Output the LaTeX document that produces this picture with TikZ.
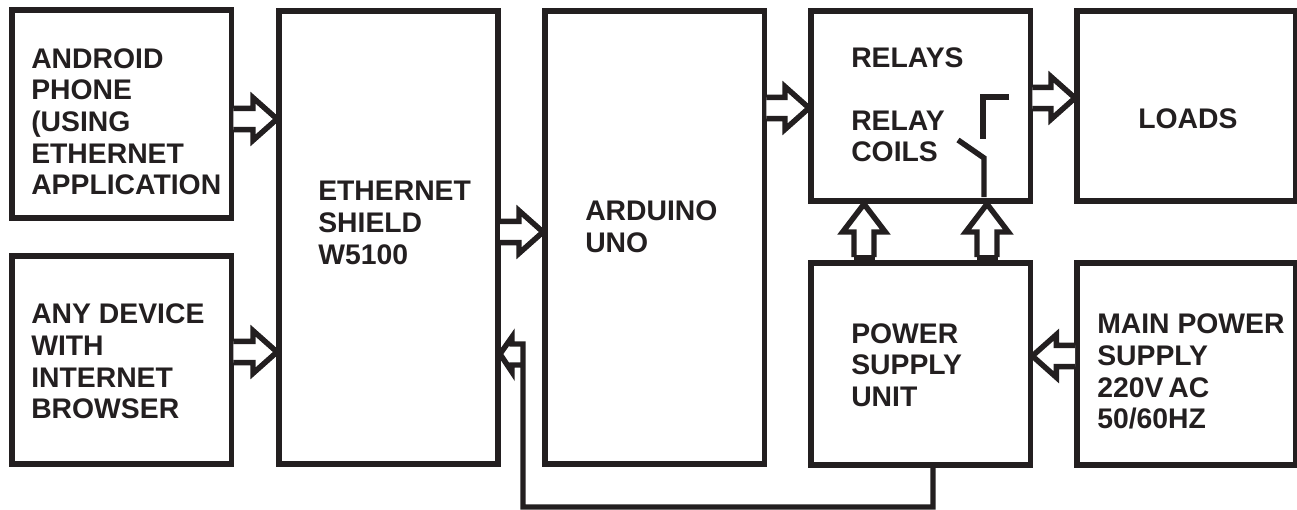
\documentclass[tikz,border=0pt]{standalone}
\usepackage{fontspec}
\setmainfont{Liberation Sans}
\usetikzlibrary{calc}
\definecolor{ink}{HTML}{231F20}
\tikzset{
  x=0.75pt,y=-0.75pt,
  box/.style={draw=ink,line width=4.1pt,fill=white,minimum width=164.5pt,inner sep=0pt,outer sep=0pt,anchor=north west},
  label/.style={font=\fontsize{21.25}{23.8}\selectfont\bfseries,text=ink,align=left,anchor=north west,inner sep=0pt},
  blockarrow/.style={draw=ink,line width=4.1pt,fill=white,miter limit=10,line join=miter},
  wire/.style={draw=ink,line width=4.1pt,line join=miter}
}
% start, end, head length, half shaft, half head
\newcommand\blockarrow[5]{%
  \draw[blockarrow] let \p1=(#1), \p2=(#2) in
   ($(#1)!#4!90:(#2)$) -- ($($(#2)!#3!(#1)$)!#4!-90:(#1)$) -- ($($(#2)!#3!(#1)$)!#5!-90:(#1)$) -- (#2)
   -- ($($(#2)!#3!(#1)$)!#5!90:(#1)$) -- ($($(#2)!#3!(#1)$)!#4!90:(#1)$) -- ($(#1)!#4!-90:(#2)$);
}
\begin{document}
\begin{tikzpicture}
\useasboundingbox (0,0) rectangle (1297,510);
\fill[white] (0,0) rectangle (1297,510);
% boxes
\node[box,minimum height=156pt] (android) at (12,10) {};
\node[box,minimum height=156pt] (browser) at (12,256) {};
\node[box,minimum height=339.75pt,minimum width=164.25pt] (shield) at (279,11) {};
\node[box,minimum height=339.75pt] (uno) at (545,11) {};
\node[box,minimum height=142.5pt] (relays) at (811,11) {};
\node[box,minimum height=142.5pt,minimum width=164.25pt] (loads) at (1077,11) {};
\node[box,minimum height=151.5pt] (psu) at (811,263) {};
\node[box,minimum height=151.5pt,minimum width=164.25pt] (mains) at (1077,263) {};
% labels
\node[label] (t1) at (31,48) {ANDROID\\PHONE\\(USING\\ETHERNET\\APPLICATION};
\node[label] (t2) at (31,303.5) {ANY DEVICE\\WITH\\INTERNET\\BROWSER};
\node[label] (t3) at (318,181) {ETHERNET\\SHIELD\\W5100};
\node[label] (t4) at (585,200.5) {ARDUINO\\UNO};
\node[label] (t5) at (851,47) {RELAYS};
\node[label] (t6) at (851,110.5) {RELAY\\COILS};
\node[label] (t7) at (1138,108.5) {LOADS};
\node[label] (t8) at (851,323) {POWER\\SUPPLY\\UNIT};
\node[label] (t9) at (1097,313.5) {MAIN POWER\\SUPPLY\\220V\hspace{-0.1em} AC\\50/60HZ};
% connector end points
\coordinate (a1) at ($(android.east |- 0,119)+(2,0)$); \coordinate (b1) at ($(shield.west |- 0,119)+(-2,0)$);
\coordinate (a2) at ($(browser.east |- 0,352)+(2,0)$); \coordinate (b2) at ($(shield.west |- 0,352)+(-2,0)$);
\coordinate (a3) at ($(shield.east |- 0,232)+(2,0)$); \coordinate (b3) at ($(uno.west |- 0,232)+(-2,0)$);
\coordinate (a4) at ($(uno.east |- 0,108)+(2,0)$);   \coordinate (b4) at ($(relays.west |- 0,108)+(-2,0)$);
\coordinate (a5) at ($(relays.east |- 0,98)+(2,0)$); \coordinate (b5) at ($(loads.west |- 0,98)+(-2,0)$);
\coordinate (a6) at ($(mains.west |- 0,356)+(-2,0)$); \coordinate (b6) at ($(psu.east |- 0,356)+(2,0)$);
\coordinate (a7) at (864,257); \coordinate (b7) at ($(relays.south -| 864,0)+(0,3)$);
\coordinate (a8) at (987,257); \coordinate (b8) at ($(relays.south -| 987,0)+(0,3)$);
% block arrows
\blockarrow{a1}{b1}{18pt}{8pt}{16pt}
\blockarrow{a2}{b2}{18pt}{8pt}{16pt}
\blockarrow{a3}{b3}{18pt}{8pt}{16pt}
\blockarrow{a4}{b4}{18pt}{8pt}{16pt}
\blockarrow{a5}{b5}{18pt}{8pt}{16pt}
\blockarrow{a6}{b6}{18pt}{8pt}{16pt}
\blockarrow{a7}{b7}{21pt}{7.5pt}{16pt}
\blockarrow{a8}{b8}{21pt}{7.5pt}{16pt}
\fill[ink] (854,255) rectangle (875,263);
\fill[ink] (977,255) rectangle (998,263);
% return line to the shield
\draw[blockarrow,fill=none] (psu.south -| 933,0) -- (933,507) -- (523,507) -- (523,344) -- (512,344) -- (512,337)
  -- (500,354) -- (512,372) -- (512,365) -- (523,365);
% relay contact
\draw[wire] (1009,97) -- (983,97) -- (983,139);
\draw[wire] (958,140) -- (984,158) -- (984,197);
\end{tikzpicture}
\end{document}
